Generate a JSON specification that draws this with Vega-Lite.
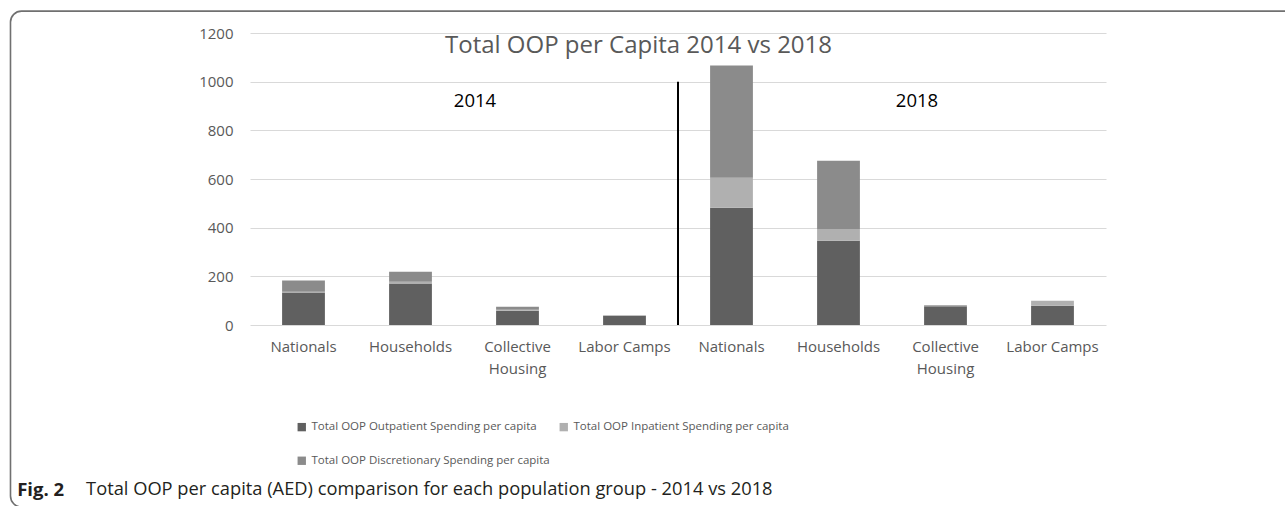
{
  "$schema": "https://vega.github.io/schema/vega-lite/v6.json",
  "width": 856,
  "height": 292,
  "autosize": {"type": "none"},
  "padding": {"left": 250, "top": 33, "right": 179, "bottom": 181},
  "background": "white",
  "config": {"view": {"stroke": null}, "font": "Open Sans", "axisY": {"grid": true, "gridColor": "#d9d9d9"}},
  "datasets": {
    "bars": [
      {"group": "2014|Nationals", "series": "Total OOP Outpatient Spending per capita", "value": 134},
      {"group": "2014|Nationals", "series": "Total OOP Inpatient Spending per capita", "value": 3},
      {"group": "2014|Nationals", "series": "Total OOP Discretionary Spending per capita", "value": 46},
      {"group": "2014|Households", "series": "Total OOP Outpatient Spending per capita", "value": 171},
      {"group": "2014|Households", "series": "Total OOP Inpatient Spending per capita", "value": 7},
      {"group": "2014|Households", "series": "Total OOP Discretionary Spending per capita", "value": 41},
      {"group": "2014|Collective\nHousing", "series": "Total OOP Outpatient Spending per capita", "value": 59},
      {"group": "2014|Collective\nHousing", "series": "Total OOP Inpatient Spending per capita", "value": 4},
      {"group": "2014|Collective\nHousing", "series": "Total OOP Discretionary Spending per capita", "value": 12},
      {"group": "2014|Labor Camps", "series": "Total OOP Outpatient Spending per capita", "value": 38},
      {"group": "2014|Labor Camps", "series": "Total OOP Inpatient Spending per capita", "value": 2},
      {"group": "2014|Labor Camps", "series": "Total OOP Discretionary Spending per capita", "value": 0},
      {"group": "2018|Nationals", "series": "Total OOP Outpatient Spending per capita", "value": 482},
      {"group": "2018|Nationals", "series": "Total OOP Inpatient Spending per capita", "value": 123},
      {"group": "2018|Nationals", "series": "Total OOP Discretionary Spending per capita", "value": 461},
      {"group": "2018|Households", "series": "Total OOP Outpatient Spending per capita", "value": 346},
      {"group": "2018|Households", "series": "Total OOP Inpatient Spending per capita", "value": 49},
      {"group": "2018|Households", "series": "Total OOP Discretionary Spending per capita", "value": 280},
      {"group": "2018|Collective\nHousing", "series": "Total OOP Outpatient Spending per capita", "value": 77},
      {"group": "2018|Collective\nHousing", "series": "Total OOP Inpatient Spending per capita", "value": 5},
      {"group": "2018|Collective\nHousing", "series": "Total OOP Discretionary Spending per capita", "value": 0},
      {"group": "2018|Labor Camps", "series": "Total OOP Outpatient Spending per capita", "value": 79},
      {"group": "2018|Labor Camps", "series": "Total OOP Inpatient Spending per capita", "value": 21},
      {"group": "2018|Labor Camps", "series": "Total OOP Discretionary Spending per capita", "value": 0}
    ]
  },
  "layer": [
    {
      "data": {"name": "bars"},
      "mark": {"type": "bar"},
      "encoding": {
        "x": {
          "field": "group", "type": "nominal", "title": null,
          "scale": {"domain": ["2014|Nationals", "2014|Households", "2014|Collective\nHousing", "2014|Labor Camps", "2018|Nationals", "2018|Households", "2018|Collective\nHousing", "2018|Labor Camps"], "paddingInner": 0.6, "paddingOuter": 0.3},
          "axis": {
            "labelExpr": "split(slice(datum.value, 5), '\\n')",
            "bandPosition": 0.5,
            "labelAngle": 0, "labelFontSize": 15, "labelColor": "#595959", "labelPadding": 14,
            "labelLineHeight": 22, "ticks": false, "domain": false, "grid": false, "labelBaseline": "top", "labelAlign": "center"
          }
        },
        "y": {
          "field": "value", "type": "quantitative", "title": null, "stack": "zero",
          "scale": {"domain": [0, 1200], "nice": false},
          "axis": {
            "values": [0, 200, 400, 600, 800, 1000, 1200], "format": "d", "grid": true,
            "labelFontSize": 15, "labelColor": "#595959", "labelPadding": 17,
            "ticks": false, "domain": false, "gridColor": "#d9d9d9", "gridWidth": 1
          }
        },
        "color": {
          "field": "series", "type": "nominal",
          "scale": {
            "domain": ["Total OOP Outpatient Spending per capita", "Total OOP Inpatient Spending per capita", "Total OOP Discretionary Spending per capita"],
            "range": ["#606060", "#b0b0b0", "#8b8b8b"]
          },
          "legend": {
            "title": null, "orient": "none", "legendX": 46, "legendY": 388, "columns": 2,
            "direction": "horizontal", "symbolType": "square", "symbolSize": 70, "symbolStrokeWidth": 0,
            "labelFontSize": 11.5, "labelColor": "#595959", "columnPadding": 8, "rowPadding": 21,
            "labelOffset": 4, "padding": 0, "labelLimit": 400
          }
        },
        "order": {"field": "series", "sort": "descending"}
      }
    },
    {
      "data": {"values": [{}]},
      "mark": {"type": "rect", "fillOpacity": 0, "stroke": "#707070", "strokeWidth": 1.6, "cornerRadius": 11},
      "encoding": {
        "x": {"datum": "2014|Nationals", "type": "nominal", "bandPosition": -6.346, "title": null},
        "x2": {"datum": "2018|Labor Camps", "bandPosition": 6.2},
        "y": {"datum": 1290, "type": "quantitative", "title": null},
        "y2": {"datum": -748}
      }
    },
    {
      "data": {"values": [{}]},
      "mark": {"type": "rule", "color": "#000000", "strokeWidth": 2},
      "encoding": {
        "x": {"datum": "2018|Nationals", "type": "nominal", "bandPosition": -0.75, "title": null},
        "y": {"datum": 0, "type": "quantitative", "title": null},
        "y2": {"datum": 1000}
      }
    },
    {
      "data": {"values": [{}]},
      "mark": {"type": "text", "text": "Total OOP per Capita 2014 vs 2018", "fontSize": 24, "color": "#595959", "align": "center", "baseline": "middle"},
      "encoding": {
        "x": {"datum": "2014|Labor Camps", "type": "nominal", "bandPosition": 0.827, "title": null},
        "y": {"datum": 1146.6, "type": "quantitative", "title": null}
      }
    },
    {
      "data": {"values": [{}]},
      "mark": {"type": "text", "text": "2014", "fontSize": 18.5, "color": "#000000", "align": "center", "baseline": "middle"},
      "encoding": {
        "x": {"datum": "2014|Collective\nHousing", "type": "nominal", "bandPosition": -0.493, "title": null},
        "y": {"datum": 922.6, "type": "quantitative", "title": null}
      }
    },
    {
      "data": {"values": [{}]},
      "mark": {"type": "text", "text": "2018", "fontSize": 18.5, "color": "#000000", "align": "center", "baseline": "middle"},
      "encoding": {
        "x": {"datum": "2018|Collective\nHousing", "type": "nominal", "bandPosition": -0.166, "title": null},
        "y": {"datum": 922.6, "type": "quantitative", "title": null}
      }
    },
    {
      "data": {"values": [{}]},
      "mark": {"type": "text", "text": "Fig. 2", "fontSize": 18.5, "fontWeight": "bold", "color": "#231f20", "align": "left", "baseline": "middle"},
      "encoding": {
        "x": {"datum": "2014|Nationals", "type": "nominal", "bandPosition": -6.19, "title": null},
        "y": {"datum": -678, "type": "quantitative", "title": null}
      }
    },
    {
      "data": {"values": [{}]},
      "mark": {"type": "text", "text": "Total OOP per capita (AED) comparison for each population group - 2014 vs 2018", "fontSize": 18.3, "color": "#231f20", "align": "left", "baseline": "middle"},
      "encoding": {
        "x": {"datum": "2014|Nationals", "type": "nominal", "bandPosition": -4.58, "title": null},
        "y": {"datum": -678, "type": "quantitative", "title": null}
      }
    }
  ]
}
